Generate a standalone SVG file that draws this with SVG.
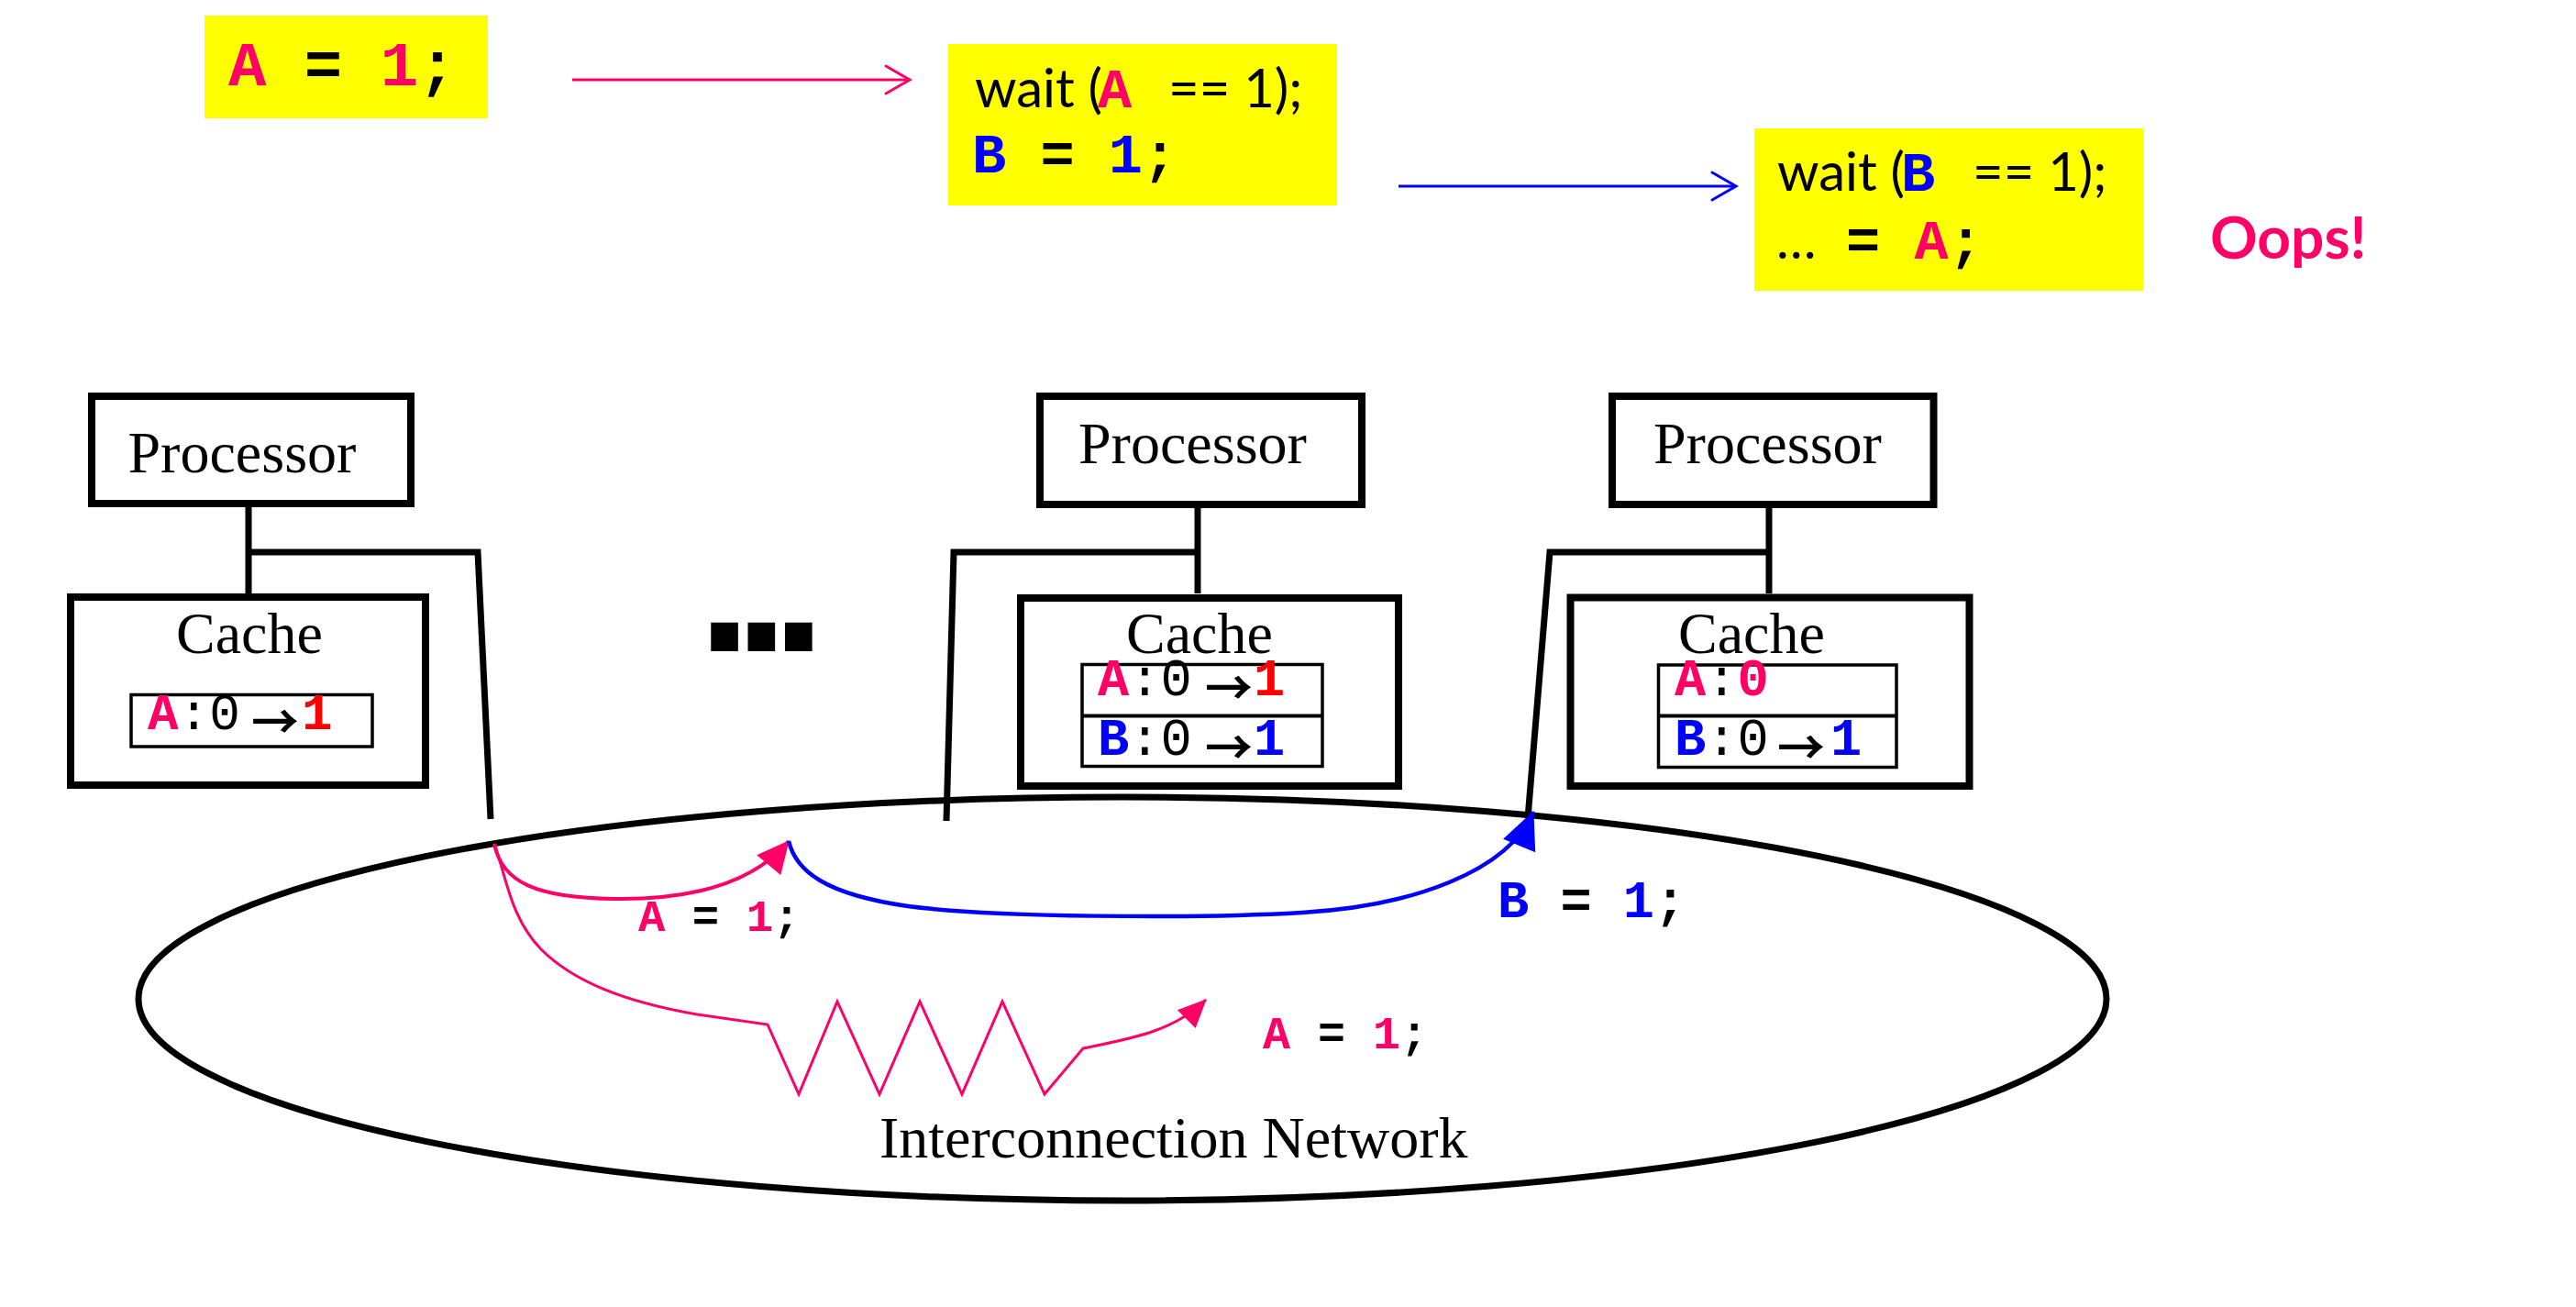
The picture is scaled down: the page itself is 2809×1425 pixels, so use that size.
<svg xmlns="http://www.w3.org/2000/svg" width="2809" height="1425" viewBox="0 0 2809 1425">
<style>
.code{fill:#FFFF00}
.box{fill:#fff;stroke:#000;stroke-width:8}
.tbl{fill:none;stroke:#000;stroke-width:3.5}
.serif{font-family:'Liberation Serif','Times New Roman',serif;font-size:64px;fill:#000}
.mono{font-family:'Liberation Mono','Courier New',monospace}
.b{font-weight:bold}
.sans{font-family:Lato,'Open Sans',sans-serif;font-size:58px;fill:#000}
.pk{fill:#FF0066}
.rd{fill:#FF0000}
.bl{fill:#0000FF}
.k{fill:#000}
.wire{fill:none;stroke:#000;stroke-width:7;stroke-linejoin:miter}
.arw{font-family:'Noto Sans CJK JP','DejaVu Sans',sans-serif;font-weight:bold;font-size:52px;fill:#000}
</style>
<defs>
<marker id="openPink" markerUnits="userSpaceOnUse" markerWidth="40" markerHeight="40" viewBox="-34 -20 40 40" refX="0" refY="0" orient="auto" overflow="visible"><path d="M-26,-15 L0,0 L-26,15" fill="none" stroke="#FF0066" stroke-width="3" stroke-linecap="round"/></marker>
<marker id="openBlue" markerUnits="userSpaceOnUse" markerWidth="40" markerHeight="40" viewBox="-34 -20 40 40" refX="0" refY="0" orient="auto" overflow="visible"><path d="M-26,-15 L0,0 L-26,15" fill="none" stroke="#0000FF" stroke-width="3" stroke-linecap="round"/></marker>
<marker id="fillPink" markerUnits="userSpaceOnUse" markerWidth="40" markerHeight="40" viewBox="-38 -20 40 40" refX="0" refY="0" orient="auto" overflow="visible"><path d="M1,0 L-34,-17 L-34,17 Z" fill="#FF0066"/></marker>
<marker id="fillPinkS" markerUnits="userSpaceOnUse" markerWidth="40" markerHeight="40" viewBox="-38 -20 40 40" refX="0" refY="0" orient="auto" overflow="visible"><path d="M1,0 L-30,-14 L-30,14 Z" fill="#FF0066"/></marker>
<marker id="fillBlue" markerUnits="userSpaceOnUse" markerWidth="46" markerHeight="46" viewBox="-44 -23 46 46" refX="0" refY="0" orient="auto" overflow="visible"><path d="M1,0 L-40,-19 L-40,19 Z" fill="#0000FF"/></marker>
</defs>
<rect width="2809" height="1425" fill="#fff"/>

<g id="code1">
<rect class="code" x="223" y="17" width="309" height="112"/>
<text class="mono b" font-size="69" x="249" y="93"><tspan class="pk">A</tspan><tspan class="k"> = </tspan><tspan class="pk">1</tspan><tspan class="k">;</tspan></text>
</g>
<g id="code2">
<rect class="code" x="1034" y="48" width="424" height="176"/>
<text y="117"><tspan class="sans" x="1063">wait (</tspan><tspan class="mono b pk" font-size="62" x="1197">A</tspan><tspan class="sans" x="1274">== 1);</tspan></text>
<text class="mono b" font-size="62" x="1060" y="188"><tspan class="bl">B</tspan><tspan class="k"> = </tspan><tspan class="bl">1</tspan><tspan class="k">;</tspan></text>
</g>
<g id="code3">
<rect class="code" x="1913" y="140" width="424" height="177"/>
<text y="208"><tspan class="sans" x="1938">wait (</tspan><tspan class="mono b bl" font-size="62" x="2073">B</tspan><tspan class="sans" x="2151">== 1);</tspan></text>
<text y="282"><tspan class="sans" x="1937">…</tspan><tspan class="mono b k" font-size="62" x="2013">= </tspan><tspan class="mono b pk" font-size="62">A</tspan><tspan class="mono b k" font-size="62">;</tspan></text>
</g>
<g id="oops">
<text x="2410" y="282" font-family="Lato,'Open Sans',sans-serif" font-weight="bold" font-size="64" fill="#FF0066">Oops!</text>
</g>

<g id="network">
<ellipse cx="1224" cy="1089" rx="1073" ry="220" fill="none" stroke="#000" stroke-width="7"/>
<text class="serif" x="959" y="1262">Interconnection Network</text>
</g>

<g id="connectors">
<line x1="624" y1="87" x2="992" y2="87" stroke="#FF0066" stroke-width="3" marker-end="url(#openPink)"/>
<line x1="1525" y1="203" x2="1893" y2="203" stroke="#0000FF" stroke-width="3" marker-end="url(#openBlue)"/>
<path class="wire" d="M271,553 V647 M271,602 H521 L535,893"/>
<path class="wire" d="M1306,553 V647 M1306,602 H1040 L1032,895"/>
<path class="wire" d="M1929,553 V647 M1929,602 H1690 L1666,892"/>
<path d="M539,920 C547,962 585,979 670,980 C750,981 820,965 860,917" fill="none" stroke="#FF0066" stroke-width="4" marker-end="url(#fillPink)"/>
<path d="M539,920 C552,955 556,1000 590,1035 C625,1070 680,1092 760,1106 L837,1117 L871,1193 L913,1092 L959,1193 L1003,1092 L1049,1193 L1093,1092 L1139,1193 L1181,1143 C1230,1133 1280,1125 1315,1090" fill="none" stroke="#FF0066" stroke-width="3" stroke-linejoin="miter" marker-end="url(#fillPinkS)"/>
<path d="M860,917 C868,950 900,975 990,988 C1080,1000 1300,1002 1420,995 C1540,988 1645,950 1672,885" fill="none" stroke="#0000FF" stroke-width="4.5" marker-end="url(#fillBlue)"/>
<text class="mono b" font-size="49" x="696" y="1015"><tspan class="pk">A</tspan><tspan class="k"> = </tspan><tspan class="pk">1</tspan><tspan class="k">;</tspan></text>
<text class="mono b" font-size="57" x="1633" y="1000"><tspan class="bl">B</tspan><tspan class="k"> = </tspan><tspan class="bl">1</tspan><tspan class="k">;</tspan></text>
<text class="mono b" font-size="50" x="1377" y="1143"><tspan class="pk">A</tspan><tspan class="k"> = </tspan><tspan class="pk">1</tspan><tspan class="k">;</tspan></text>
</g>

<g id="proc1">
<rect class="box" x="100" y="432" width="348" height="117"/>
<text class="serif" x="139.5" y="515">Processor</text>
</g>
<g id="cache1">
<rect class="box" x="77" y="651" width="387" height="205"/>
<text class="serif" x="192" y="712">Cache</text>
<rect class="tbl" x="143" y="757.5" width="263" height="56.5"/>
<text class="mono" font-size="56" y="795"><tspan class="b pk" x="161">A</tspan><tspan class="k">:0</tspan></text>
<text class="arw" x="274" y="806">→</text>
<text class="mono b rd" font-size="56" x="329" y="795">1</text>
</g>

<g id="proc2">
<rect class="box" x="1134" y="432" width="351" height="118"/>
<text class="serif" x="1176" y="505">Processor</text>
</g>
<g id="cache2">
<rect class="box" x="1113" y="652" width="412" height="205"/>
<text class="serif" x="1228" y="712">Cache</text>
<rect class="tbl" x="1180" y="724.5" width="262" height="111"/>
<line x1="1180" y1="780.5" x2="1442" y2="780.5" stroke="#000" stroke-width="4"/>
<text class="mono" font-size="57" y="758"><tspan class="b pk" x="1197">A</tspan><tspan class="k">:0</tspan></text>
<text class="arw" x="1314" y="769">→</text>
<text class="mono b rd" font-size="57" x="1367" y="758">1</text>
<text class="mono" font-size="57" y="823"><tspan class="b bl" x="1197">B</tspan><tspan class="k">:0</tspan></text>
<text class="arw" x="1314" y="834">→</text>
<text class="mono b bl" font-size="57" x="1367" y="823">1</text>
</g>

<g id="proc3">
<rect class="box" x="1758" y="432" width="350.5" height="118"/>
<text class="serif" x="1803" y="505">Processor</text>
</g>
<g id="cache3">
<rect class="box" x="1712.5" y="651.5" width="435" height="205.5"/>
<text class="serif" x="1830" y="712">Cache</text>
<rect class="tbl" x="1808.5" y="725" width="259.5" height="111.5"/>
<line x1="1808.5" y1="780.5" x2="2068" y2="780.5" stroke="#000" stroke-width="4"/>
<text class="mono" font-size="57" y="758"><tspan class="b pk" x="1826">A</tspan><tspan class="k">:</tspan><tspan class="b pk">0</tspan></text>
<text class="mono" font-size="57" y="823"><tspan class="b bl" x="1826">B</tspan><tspan class="k">:0</tspan></text>
<text class="arw" x="1938" y="834">→</text>
<text class="mono b bl" font-size="57" x="1996" y="823">1</text>
</g>

<g id="ellipsis">
<text x="761" y="710" font-family="'Liberation Sans',Arial,sans-serif" font-weight="bold" font-size="210" letter-spacing="-18" fill="#000">...</text>
</g>
</svg>
